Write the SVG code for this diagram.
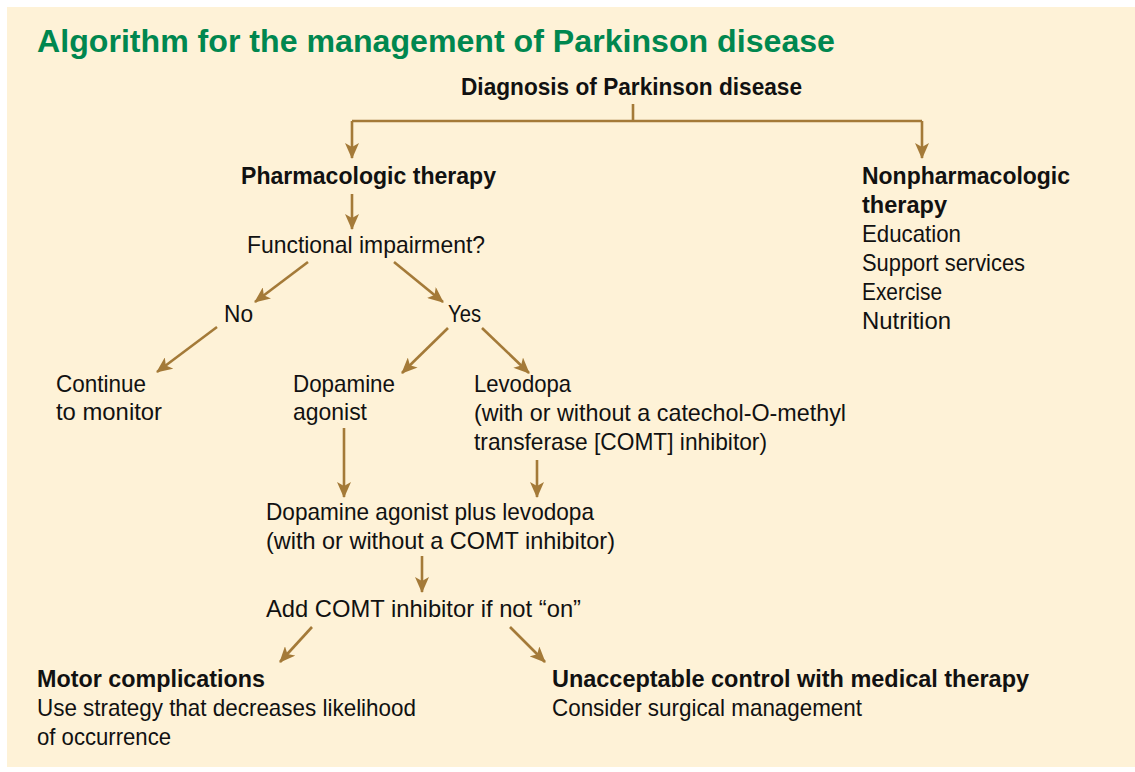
<svg xmlns="http://www.w3.org/2000/svg" width="1135" height="772" viewBox="0 0 1135 772">
<defs>
<marker id="ah" markerUnits="userSpaceOnUse" markerWidth="16" markerHeight="14" refX="15" refY="7" orient="auto">
<path d="M0,0 L16,7 L0,14 L4,7 Z" fill="#A47A38"/>
</marker>
<style>
.t{font-family:"Liberation Sans",Arial,sans-serif;font-size:24px;fill:#111;}
.b{font-weight:bold;}
.title{font-family:"Liberation Sans",Arial,sans-serif;font-size:31px;font-weight:bold;fill:#00874F;}
.c{stroke:#A47A38;stroke-width:2.6;fill:none;}
.a{marker-end:url(#ah);}
</style>
</defs>
<rect x="0" y="0" width="1135" height="772" fill="#ffffff"/>
<rect x="7" y="7" width="1128" height="760" fill="#FEF2D7"/>
<text class="title" x="37" y="52" textLength="798" lengthAdjust="spacingAndGlyphs">Algorithm for the management of Parkinson disease</text>

<g id="connectors">
<path class="c" d="M633,104 V121 M352,121 H922"/>
<path class="c a" d="M352,121 V158"/>
<path class="c a" d="M922,121 V158"/>
<path class="c a" d="M352,194 V229"/>
<path class="c a" d="M308,262 L255,302"/>
<path class="c a" d="M394,262 L443,302"/>
<path class="c a" d="M217,327 L157,372"/>
<path class="c a" d="M448,328 L402,373"/>
<path class="c a" d="M482,328 L529,373"/>
<path class="c a" d="M344,428 V497"/>
<path class="c a" d="M537,460 V497"/>
<path class="c a" d="M422,556 V592"/>
<path class="c a" d="M312,627 L280,662"/>
<path class="c a" d="M510,627 L545,662"/>
</g>

<g id="n_diagnosis"><text class="t b" x="461" y="95" textLength="341" lengthAdjust="spacingAndGlyphs">Diagnosis of Parkinson disease</text></g>
<g id="n_pharm"><text class="t b" x="241" y="184" textLength="255" lengthAdjust="spacingAndGlyphs">Pharmacologic therapy</text></g>
<g id="n_nonpharm">
<text class="t b" x="862" y="184" textLength="208" lengthAdjust="spacingAndGlyphs">Nonpharmacologic</text>
<text class="t b" x="862" y="213" textLength="85" lengthAdjust="spacingAndGlyphs">therapy</text>
<text class="t" x="862" y="242" textLength="99" lengthAdjust="spacingAndGlyphs">Education</text>
<text class="t" x="862" y="271" textLength="163" lengthAdjust="spacingAndGlyphs">Support services</text>
<text class="t" x="862" y="300" textLength="80" lengthAdjust="spacingAndGlyphs">Exercise</text>
<text class="t" x="862" y="329" textLength="89" lengthAdjust="spacingAndGlyphs">Nutrition</text>
</g>
<g id="n_functional"><text class="t" x="247" y="253" textLength="238" lengthAdjust="spacingAndGlyphs">Functional impairment?</text></g>
<g id="n_no"><text class="t" x="224" y="322" textLength="29" lengthAdjust="spacingAndGlyphs">No</text></g>
<g id="n_yes"><text class="t" x="448" y="322" textLength="33" lengthAdjust="spacingAndGlyphs">Yes</text></g>
<g id="n_continue">
<text class="t" x="56" y="392" textLength="90" lengthAdjust="spacingAndGlyphs">Continue</text>
<text class="t" x="56" y="420" textLength="106" lengthAdjust="spacingAndGlyphs">to monitor</text>
</g>
<g id="n_dopamine">
<text class="t" x="293" y="392" textLength="102" lengthAdjust="spacingAndGlyphs">Dopamine</text>
<text class="t" x="293" y="420" textLength="74" lengthAdjust="spacingAndGlyphs">agonist</text>
</g>
<g id="n_levodopa">
<text class="t" x="474" y="392" textLength="97" lengthAdjust="spacingAndGlyphs">Levodopa</text>
<text class="t" x="474" y="421" textLength="372" lengthAdjust="spacingAndGlyphs">(with or without a catechol-O-methyl</text>
<text class="t" x="474" y="450" textLength="293" lengthAdjust="spacingAndGlyphs">transferase [COMT] inhibitor)</text>
</g>
<g id="n_combo">
<text class="t" x="266" y="520" textLength="328" lengthAdjust="spacingAndGlyphs">Dopamine agonist plus levodopa</text>
<text class="t" x="266" y="549" textLength="349" lengthAdjust="spacingAndGlyphs">(with or without a COMT inhibitor)</text>
</g>
<g id="n_addcomt"><text class="t" x="266" y="617" textLength="315" lengthAdjust="spacingAndGlyphs">Add COMT inhibitor if not “on”</text></g>
<g id="n_motor">
<text class="t b" x="37" y="687" textLength="228" lengthAdjust="spacingAndGlyphs">Motor complications</text>
<text class="t" x="37" y="716" textLength="379" lengthAdjust="spacingAndGlyphs">Use strategy that decreases likelihood</text>
<text class="t" x="37" y="745" textLength="134" lengthAdjust="spacingAndGlyphs">of occurrence</text>
</g>
<g id="n_unacceptable">
<text class="t b" x="552" y="687" textLength="477" lengthAdjust="spacingAndGlyphs">Unacceptable control with medical therapy</text>
<text class="t" x="552" y="716" textLength="310" lengthAdjust="spacingAndGlyphs">Consider surgical management</text>
</g>
</svg>
